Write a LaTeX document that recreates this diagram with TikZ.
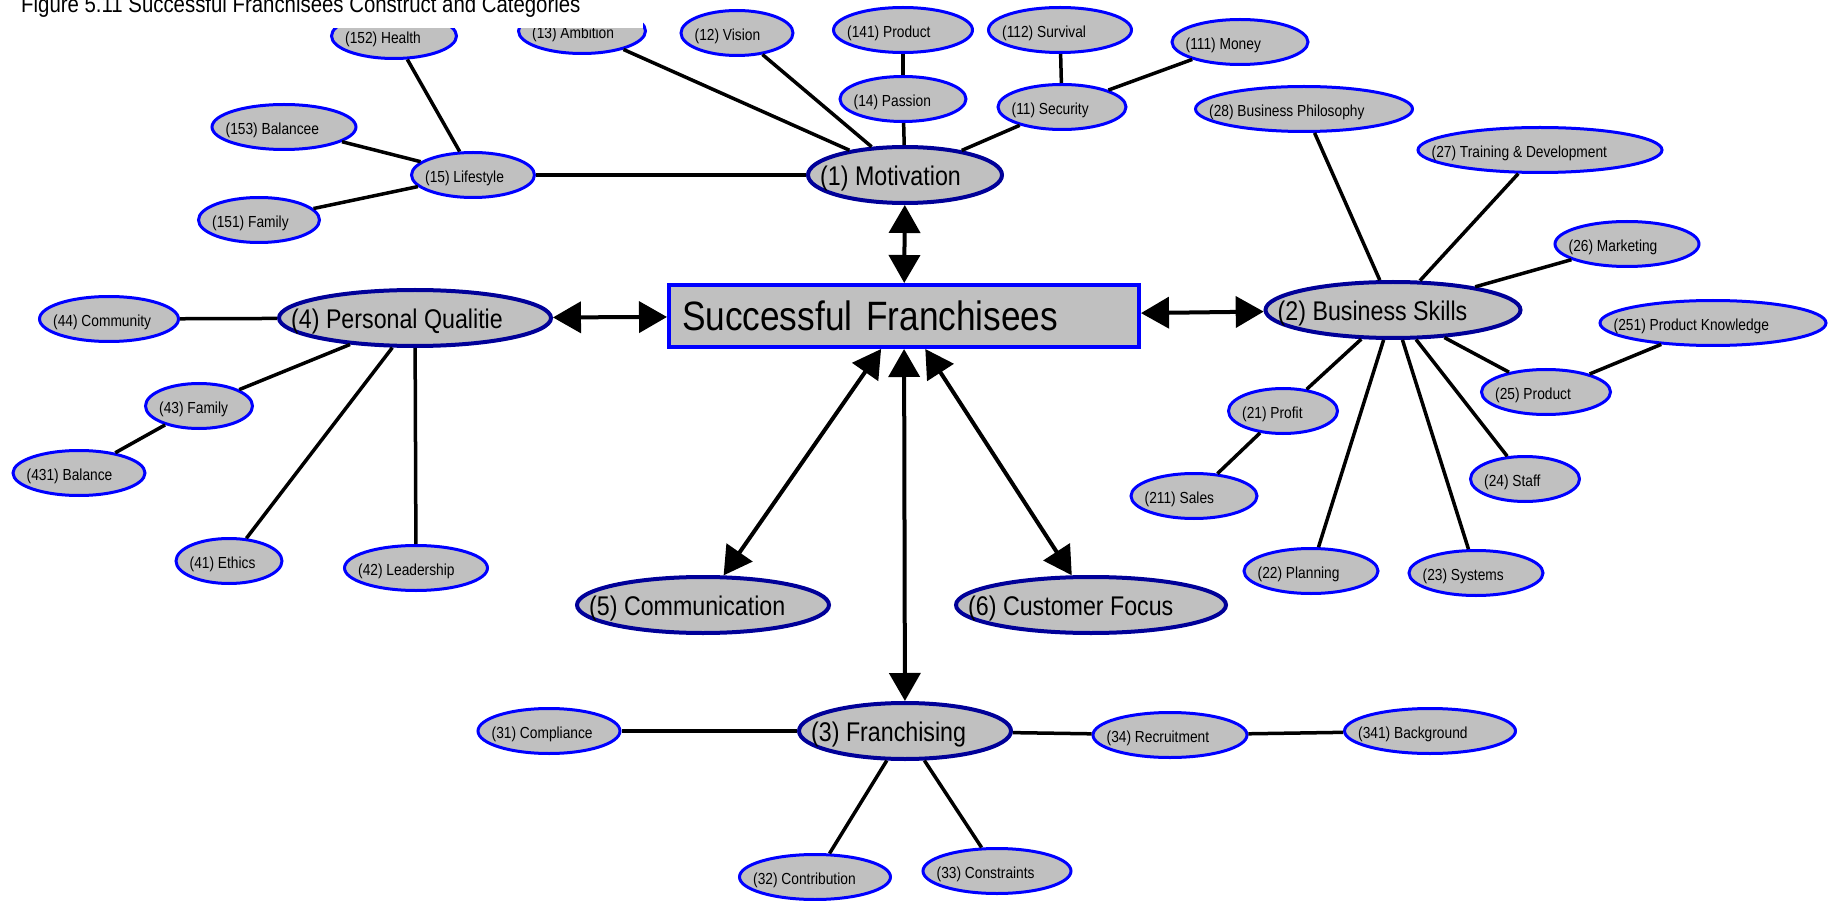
\documentclass[tikz,border=0pt]{standalone}
\usepackage{fontspec}
\setmainfont{Liberation Sans}[FakeStretch=0.86]
\usetikzlibrary{shapes.geometric,arrows.meta}
\definecolor{franfill}{RGB}{192,192,192}
\definecolor{franblue}{RGB}{0,0,255}
\definecolor{frannavy}{RGB}{0,0,153}

\begin{document}
\begin{tikzpicture}[yscale=-1
,leaf/.style={ellipse,draw=franblue,fill=franfill,line width=3pt,minimum height=45pt,inner sep=0pt}
,hub/.style={ellipse,draw=frannavy,fill=franfill,line width=4pt,minimum height=56pt,inner sep=0pt}
,leaftext/.style={anchor=west,xshift=15pt,yshift=-3pt,inner sep=0pt,font=\fontsize{16}{18}\selectfont}
,hubtext/.style={anchor=west,xshift=14pt,yshift=-4pt,inner sep=0pt,font=\fontsize{27}{30}\selectfont}
,core/.style={rectangle,draw=franblue,fill=franfill,line width=4pt,inner xsep=13pt,align=left,font=\fontsize{41}{46}\selectfont}
,spoke/.style={black,line width=3.5pt}
,biarrow/.style={black,line width=4pt,>={Triangle[length=28pt,width=31pt]},<->}
]
\useasboundingbox (0pt,0pt) rectangle (1832pt,901pt);
% centre and categories
\node[core,text width=444pt,minimum height=62pt] (sf) at (904pt,316pt) {Successful Franchisees};
\node[hub,minimum width=194pt,label={[hubtext]west:(1) Motivation}] (mot) at (905pt,175pt) {};
\node[hub,minimum width=255pt,label={[hubtext]west:(2) Business Skills}] (bus) at (1393pt,310pt) {};
\node[hub,minimum width=212pt,label={[hubtext]west:(3) Franchising}] (fra) at (905pt,731pt) {};
\node[hub,minimum width=272pt,label={[hubtext]west:(4) Personal Qualitie}] (per) at (415pt,318pt) {};
\node[hub,minimum width=252pt,label={[hubtext]west:(5) Communication}] (com) at (703pt,605pt) {};
\node[hub,minimum width=270pt,label={[hubtext]west:(6) Customer Focus}] (cus) at (1091pt,605pt) {};
% motivation
\node[leaf,minimum width=125pt,label={[leaftext]west:(152) Health}] (n152) at (394pt,36pt) {};
\node[leaf,minimum width=127pt,label={[leaftext]west:(13) Ambition}] (n13) at (582pt,31pt) {};
\node[leaf,minimum width=112pt,label={[leaftext]west:(12) Vision}] (n12) at (737pt,33pt) {};
\node[leaf,minimum width=139pt,label={[leaftext]west:(141) Product}] (n141) at (903pt,30pt) {};
\node[leaf,minimum width=143pt,label={[leaftext]west:(112) Survival}] (n112) at (1060pt,30pt) {};
\node[leaf,minimum width=136pt,label={[leaftext]west:(111) Money}] (n111) at (1240pt,42pt) {};
\node[leaf,minimum width=126pt,label={[leaftext]west:(14) Passion}] (n14) at (903pt,99pt) {};
\node[leaf,minimum width=128pt,label={[leaftext]west:(11) Security}] (n11) at (1062pt,107pt) {};
\node[leaf,minimum width=144pt,label={[leaftext]west:(153) Balancee}] (n153) at (284pt,127pt) {};
\node[leaf,minimum width=123pt,label={[leaftext]west:(15) Lifestyle}] (n15) at (473pt,175pt) {};
\node[leaf,minimum width=121pt,label={[leaftext]west:(151) Family}] (n151) at (259pt,220pt) {};
% business skills
\node[leaf,minimum width=217pt,label={[leaftext]west:(28) Business Philosophy}] (n28) at (1304pt,109pt) {};
\node[leaf,minimum width=244pt,label={[leaftext]west:(27) Training \& Development}] (n27) at (1540pt,150pt) {};
\node[leaf,minimum width=144pt,label={[leaftext]west:(26) Marketing}] (n26) at (1627pt,244pt) {};
\node[leaf,minimum width=226pt,label={[leaftext]west:(251) Product Knowledge}] (n251) at (1713pt,323pt) {};
\node[leaf,minimum width=129pt,label={[leaftext]west:(25) Product}] (n25) at (1546pt,392pt) {};
\node[leaf,minimum width=109pt,label={[leaftext]west:(21) Profit}] (n21) at (1283pt,411pt) {};
\node[leaf,minimum width=126pt,label={[leaftext]west:(211) Sales}] (n211) at (1194pt,496pt) {};
\node[leaf,minimum width=109pt,label={[leaftext]west:(24) Staff}] (n24) at (1525pt,479pt) {};
\node[leaf,minimum width=134pt,label={[leaftext]west:(22) Planning}] (n22) at (1311pt,571pt) {};
\node[leaf,minimum width=134pt,label={[leaftext]west:(23) Systems}] (n23) at (1476pt,573pt) {};
% personal qualities
\node[leaf,minimum width=139pt,label={[leaftext]west:(44) Community}] (n44) at (109pt,319pt) {};
\node[leaf,minimum width=107pt,label={[leaftext]west:(43) Family}] (n43) at (199pt,406pt) {};
\node[leaf,minimum width=132pt,label={[leaftext]west:(431) Balance}] (n431) at (79pt,473pt) {};
\node[leaf,minimum width=106pt,label={[leaftext]west:(41) Ethics}] (n41) at (229pt,561pt) {};
\node[leaf,minimum width=143pt,label={[leaftext]west:(42) Leadership}] (n42) at (416pt,568pt) {};
% franchising
\node[leaf,minimum width=142pt,label={[leaftext]west:(31) Compliance}] (n31) at (549pt,731pt) {};
\node[leaf,minimum width=154pt,label={[leaftext]west:(34) Recruitment}] (n34) at (1170pt,735pt) {};
\node[leaf,minimum width=171pt,label={[leaftext]west:(341) Background}] (n341) at (1430pt,731pt) {};
\node[leaf,minimum width=151pt,label={[leaftext]west:(32) Contribution}] (n32) at (815pt,877pt) {};
\node[leaf,minimum width=148pt,label={[leaftext]west:(33) Constraints}] (n33) at (997pt,871pt) {};
% spokes
\draw[spoke] (mot) -- (n13);
\draw[spoke] (mot) -- (n12);
\draw[spoke] (mot) -- (n14);
\draw[spoke] (mot) -- (n11);
\draw[spoke] (mot) -- (n15);
\draw[spoke] (n14) -- (n141);
\draw[spoke] (n11) -- (n112);
\draw[spoke] (n11) -- (n111);
\draw[spoke] (n15) -- (n152);
\draw[spoke] (n15) -- (n153);
\draw[spoke] (n15) -- (n151);
\draw[spoke] (bus) -- (n28);
\draw[spoke] (bus) -- (n27);
\draw[spoke] (bus) -- (n26);
\draw[spoke] (bus) -- (n25);
\draw[spoke] (bus) -- (n24);
\draw[spoke] (bus) -- (n23);
\draw[spoke] (bus) -- (n22);
\draw[spoke] (bus) -- (n21);
\draw[spoke] (n25) -- (n251);
\draw[spoke] (n21) -- (n211);
\draw[spoke] (per) -- (n44);
\draw[spoke] (per) -- (n43);
\draw[spoke] (per) -- (n41);
\draw[spoke] (per) -- (n42);
\draw[spoke] (n43) -- (n431);
\draw[spoke] (fra) -- (n31);
\draw[spoke] (fra) -- (n32);
\draw[spoke] (fra) -- (n33);
\draw[spoke] (fra) -- (n34);
\draw[spoke] (n34) -- (n341);
% arrows to the centre
\draw[biarrow] (mot) -- (sf);
\draw[biarrow] (per) -- (sf);
\draw[biarrow] (sf) -- (bus);
\draw[biarrow] (sf) -- (com);
\draw[biarrow] (sf) -- (fra);
\draw[biarrow] (sf) -- (cus);
% caption
\fill[white] (0pt,0pt) rectangle (643pt,28pt);
\node[anchor=base west,inner sep=0pt,font=\fontsize{23.7}{28}\selectfont] (title) at (21pt,13pt) {Figure 5.11 Successful Franchisees Construct and Categories};
\end{tikzpicture}
\end{document}
